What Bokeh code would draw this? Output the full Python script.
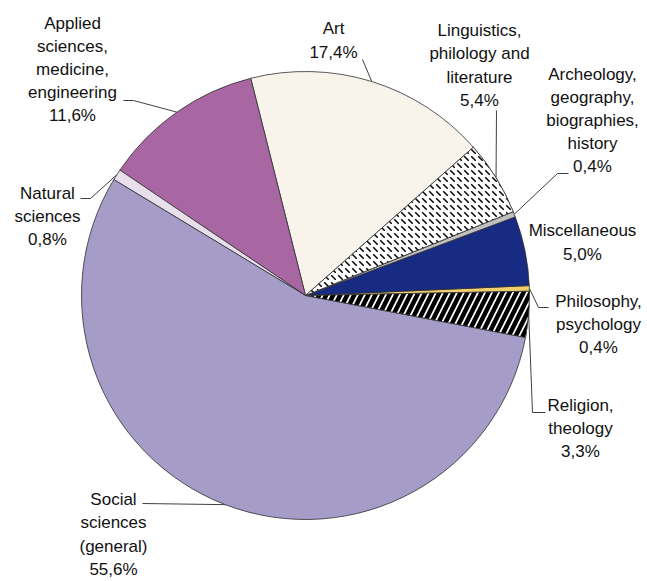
import numpy as np
from bokeh.plotting import figure
from bokeh.models import Range1d, ColumnDataSource
from bokeh.core.properties import value
from bokeh.embed import file_html
from bokeh.resources import INLINE

# ---- data (counter-clockwise order) ----
categories = ["Religion,\ntheology", "Philosophy,\npsychology", "Miscellaneous",
              "Archeology,\ngeography,\nbiographies,\nhistory",
              "Linguistics,\nphilology and\nliterature", "Art",
              "Applied\nsciences,\nmedicine,\nengineering", "Natural\nsciences",
              "Social\nsciences\n(general)"]
shares = [3.3, 0.4, 5.0, 0.4, 5.4, 17.4, 11.6, 0.8, 55.6]
colors = ["#FFFFFF", "#F2CF6E", "#172B82", "#C0C0C0", "#FFFFFF",
          "#F8F4EC", "#A867A3", "#E9DFEC", "#A59CC8"]

# ---- layout (picture pixel coords) ----
W, H = 647, 581
def X(px): return px
def Y(py): return H - py

cx, cy, R = X(305), Y(295), 224
start_deg = -10.8

label_pos = [(580, 428), (598, 324), (582, 242), (592, 120), (479, 65),
             (333, 40), (72, 69), (47, 216), (113, 534)]
# leader elbow points (label side), None = no leader
leaders = [[(545, 412), (532, 412)], [(548, 307), (538, 307)], None,
           [(568, 173), (557, 173)], [(496, 110)], [(362, 59)],
           [(123, 100), (133, 100)], [(80, 198), (90, 198)], [(142, 503)]]

vals = np.array(shares, dtype=float)
ang = vals / vals.sum() * 2 * np.pi
ends = np.radians(start_deg) + np.cumsum(ang)
starts = ends - ang
mids = (starts + ends) / 2

p = figure(width=W, height=H, x_range=Range1d(0, W), y_range=Range1d(0, H),
           output_backend="svg", toolbar_location=None, min_border=0)
p.axis.visible = False
p.grid.visible = False
p.outline_line_color = None
p.background_fill_color = "white"
p.border_fill_color = "white"

src = ColumnDataSource(dict(start=starts, end=ends, color=colors))
p.wedge(x=cx, y=cy, radius=R, start_angle="start", end_angle="end",
        fill_color="color", line_color="#303030", line_width=0.8, source=src)

# hatched slices
p.wedge(x=cx, y=cy, radius=R, start_angle=starts[0], end_angle=ends[0],
        fill_color="white", line_color="#303030", line_width=0.8,
        hatch_pattern="right_diagonal_line", hatch_color="black",
        hatch_weight=4.5, hatch_scale=14)
p.wedge(x=cx, y=cy, radius=R, start_angle=starts[4], end_angle=ends[4],
        fill_color="white", line_color="#303030", line_width=0.8,
        hatch_pattern="left_diagonal_dash", hatch_color="black",
        hatch_weight=1.5, hatch_scale=7)

# leader lines
xs, ys = [], []
for i, pts in enumerate(leaders):
    if pts is None:
        continue
    ex = cx + R * np.cos(mids[i])
    ey = cy + R * np.sin(mids[i])
    xs.append([X(a) for a, b in pts] + [ex])
    ys.append([Y(b) for a, b in pts] + [ey])
p.multi_line(xs=xs, ys=ys, line_color="#404040", line_width=1)

# labels
texts = [f"{c}\n{v:.1f}%".replace(".", ",") for c, v in zip(categories, shares)]
lsrc = ColumnDataSource(dict(x=[X(a) for a, b in label_pos],
                             y=[Y(b) for a, b in label_pos], t=texts))
p.text(x="x", y="y", text="t", source=lsrc, text_align="center",
       text_baseline="middle", text_font_size="17px", text_line_height=1.22,
       text_font=value("Liberation Sans"), text_color="#111111")

open("out.html", "w").write(file_html(p, INLINE))
